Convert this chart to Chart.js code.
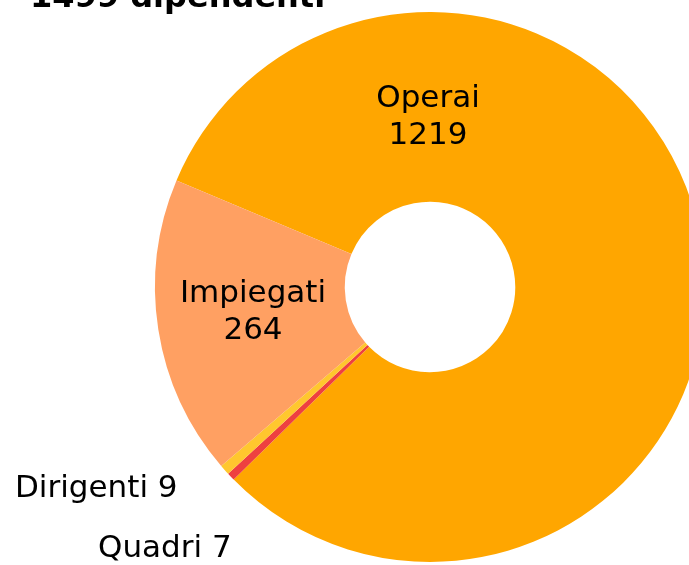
<!DOCTYPE html>
<html lang="it">
<head>
  <meta charset="UTF-8" />
  <title>1499 dipendenti</title>
  <script src="https://cdn.jsdelivr.net/npm/chart.js"></script>
  <style>
    html, body {
      margin: 0;
      padding: 0;
      width: 689px;
      height: 565px;
      overflow: hidden;
      background: #ffffff;
      font-family: 'DejaVu Sans', sans-serif;
    }
    .title {
      position: absolute;
      left: 30px;
      top: -20px;
      font-size: 32px;
      line-height: 32px;
      font-weight: bold;
      color: #000;
      white-space: nowrap;
      z-index: 2;
    }
    .chart-box {
      position: absolute;
      left: 0;
      top: 0;
      width: 720px;
      height: 565px;
    }
  </style>
</head>
<body>
  <div class="title">1499 dipendenti</div>
  <div class="chart-box">
    <canvas id="staffChart" width="720" height="565"></canvas>
  </div>

<script>
  const categories = ['Operai', 'Quadri', 'Dirigenti', 'Impiegati'];
  const headcount = [1219, 7, 9, 264];
  const colors = ['#FFA600', '#EE4040', '#FFC72E', '#FFA062'];

  // where each label sits, relative to the doughnut centre (px)
  const labelSpots = {
    Operai:    { dx: -2,   dy: -172, align: 'center', inline: false },
    Impiegati: { dx: -177, dy: 23,   align: 'center', inline: false },
    Dirigenti: { dx: -415, dy: 199,  align: 'left',   inline: true },
    Quadri:    { dx: -332, dy: 259,  align: 'left',   inline: true }
  };

  const labelPlugin = {
    id: 'sliceLabels',
    afterDatasetsDraw(chart) {
      const ctx = chart.ctx;
      const arc = chart.getDatasetMeta(0).data[0];
      const cx = arc.x, cy = arc.y;
      ctx.save();
      ctx.font = '31px "DejaVu Sans", sans-serif';
      ctx.fillStyle = '#000';
      ctx.textBaseline = 'alphabetic';
      categories.forEach((name, i) => {
        const s = labelSpots[name];
        ctx.textAlign = s.align;
        const x = cx + s.dx, y = cy + s.dy;
        if (s.inline) {
          ctx.fillText(name + ' ' + headcount[i], x, y + 11);
        } else {
          ctx.fillText(name, x, y - 8);
          ctx.fillText(String(headcount[i]), x, y + 29);
        }
      });
      ctx.restore();
    }
  };

  const ctx = document.getElementById('staffChart').getContext('2d');
  new Chart(ctx, {
    type: 'doughnut',
    data: {
      labels: categories,
      datasets: [{
        data: headcount,
        backgroundColor: colors,
        borderWidth: 0
      }]
    },
    options: {
      responsive: false,
      animation: false,
      cutout: '31%',
      rotation: -67.2,
      layout: { padding: { left: 155, right: 15, top: 12, bottom: 3 } },
      plugins: {
        legend: { display: false },
        tooltip: { enabled: false }
      }
    },
    plugins: [labelPlugin]
  });
</script>
</body>
</html>
